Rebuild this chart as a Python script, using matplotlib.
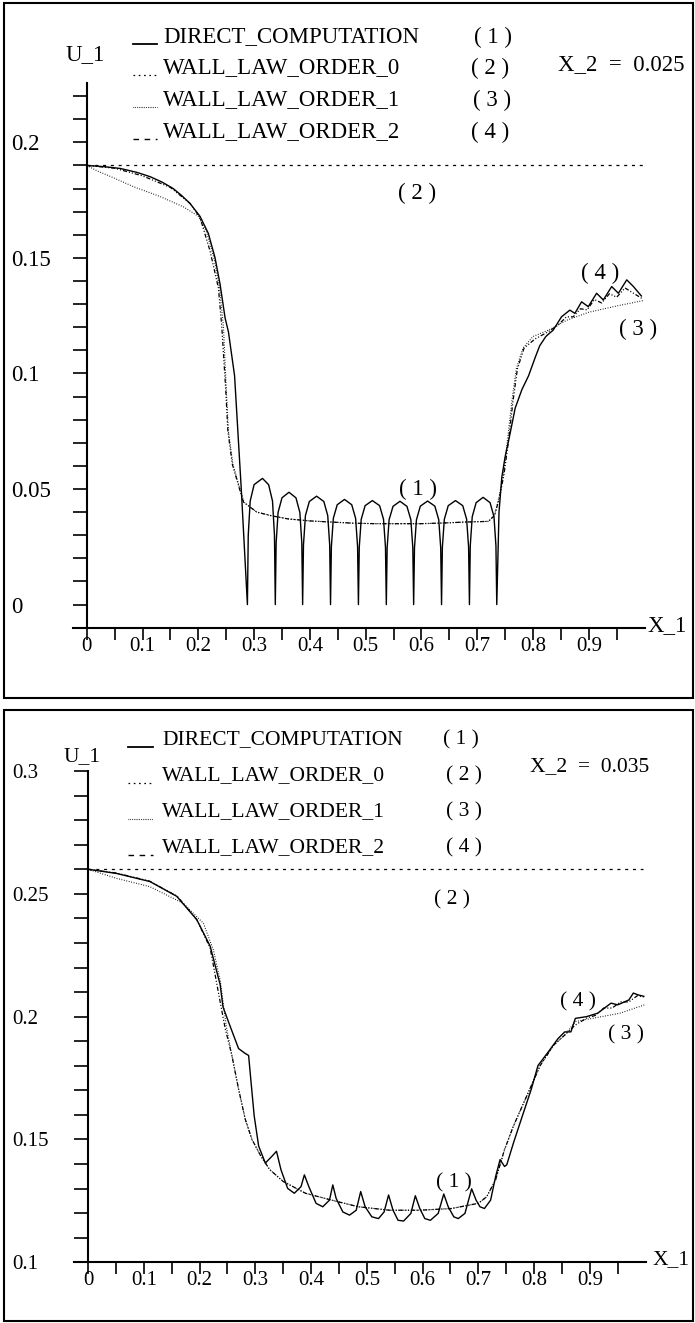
import numpy as np
import matplotlib
matplotlib.use("Agg")
import matplotlib.pyplot as plt
from matplotlib.lines import Line2D
from matplotlib.patches import Rectangle

plt.rcParams['font.family'] = ['Liberation Serif', 'DejaVu Serif']
plt.rcParams['lines.scale_dashes'] = False

W, H = 695, 1323

# ---------------- data : panel 1 (X_2 = 0.025) ----------------
top_direct_x = [0, 0.03, 0.06, 0.09, 0.114, 0.135, 0.155, 0.17, 0.185, 0.203, 0.218, 0.23, 0.239,
                0.248, 0.254, 0.265, 0.277,
                0.288, 0.2895, 0.293, 0.300, 0.315, 0.326, 0.333, 0.3365,
                0.338, 0.3395, 0.343, 0.350, 0.3625, 0.375, 0.382, 0.3855,
                0.387, 0.3885, 0.392, 0.399, 0.412, 0.425, 0.432, 0.4355,
                0.437, 0.4385, 0.442, 0.449, 0.462, 0.475, 0.482, 0.4855,
                0.487, 0.4885, 0.492, 0.499, 0.512, 0.525, 0.532, 0.5355,
                0.537, 0.5385, 0.542, 0.549, 0.5615, 0.574, 0.581, 0.5845,
                0.586, 0.5875, 0.591, 0.598, 0.611, 0.624, 0.631, 0.6345,
                0.636, 0.6375, 0.641, 0.648, 0.661, 0.674, 0.681, 0.6845,
                0.686, 0.6875, 0.691, 0.698, 0.7105, 0.723, 0.730, 0.7335,
                0.735, 0.739, 0.744, 0.75, 0.758, 0.768, 0.78, 0.792, 0.804, 0.812, 0.823, 0.83,
                0.836, 0.851, 0.866, 0.875, 0.887, 0.899, 0.914, 0.926, 0.941, 0.953, 0.968, 0.98, 0.995]
top_direct_u = [0.19, 0.1895, 0.1887, 0.187, 0.1851, 0.1828, 0.180, 0.177, 0.1736, 0.168, 0.1606, 0.150, 0.1386,
                0.124, 0.118, 0.099, 0.050,
                0, 0.030, 0.0448, 0.0519, 0.0546, 0.0519, 0.0448, 0.030,
                0, 0.0267, 0.0399, 0.0462, 0.0486, 0.0462, 0.0399, 0.0267,
                0, 0.0258, 0.0385, 0.0446, 0.0469, 0.0446, 0.0385, 0.0258,
                0, 0.0250, 0.0373, 0.0432, 0.0455, 0.0432, 0.0373, 0.0250,
                0, 0.0248, 0.0369, 0.0428, 0.0450, 0.0428, 0.0369, 0.0248,
                0, 0.0246, 0.0367, 0.0425, 0.0447, 0.0425, 0.0367, 0.0246,
                0, 0.0246, 0.0367, 0.0426, 0.0448, 0.0426, 0.0367, 0.0246,
                0, 0.0248, 0.0369, 0.0428, 0.0450, 0.0428, 0.0369, 0.0248,
                0, 0.0255, 0.0380, 0.0441, 0.0464, 0.0441, 0.0380, 0.0255,
                0, 0.040, 0.055, 0.064, 0.073, 0.085, 0.093, 0.099, 0.107, 0.112, 0.116, 0.1175,
                0.1187, 0.1245, 0.1274, 0.126, 0.131, 0.1289, 0.1347, 0.1318, 0.1376, 0.1347, 0.1405, 0.1376, 0.1333]

top_order0_x = [0, 0.997]
top_order0_u = [0.19, 0.19]

top_order1_x = [0, 0.02, 0.04, 0.084, 0.132, 0.174, 0.2, 0.215, 0.228, 0.238, 0.245, 0.25, 0.254, 0.262,
                0.274, 0.282, 0.305, 0.33, 0.36, 0.4, 0.439, 0.48, 0.519, 0.56, 0.598, 0.64, 0.677, 0.72,
                0.731, 0.739, 0.747, 0.754, 0.762, 0.77, 0.782, 0.8, 0.83, 0.86, 0.9, 0.95, 0.997]
top_order1_u = [0.19, 0.1875, 0.1855, 0.1808, 0.1765, 0.172, 0.168, 0.161, 0.150, 0.137, 0.1205, 0.094, 0.075,
                0.0607, 0.0507, 0.0443, 0.040, 0.0385, 0.0371, 0.0362, 0.0357, 0.0352, 0.035, 0.035, 0.035,
                0.0353, 0.0357, 0.036, 0.0386, 0.0464, 0.0564, 0.0707, 0.0879, 0.102, 0.111, 0.116, 0.119,
                0.123, 0.1265, 0.1292, 0.1315]

top_order2_x = [0, 0.05, 0.1, 0.15, 0.185, 0.203, 0.221, 0.236, 0.242, 0.249, 0.253, 0.261, 0.273, 0.281,
                0.305, 0.33, 0.36, 0.4, 0.439, 0.48, 0.519, 0.56, 0.598, 0.64, 0.677, 0.72, 0.731, 0.74,
                0.748, 0.756, 0.764, 0.772, 0.784, 0.804, 0.827, 0.845, 0.86, 0.872, 0.885, 0.897, 0.91,
                0.923, 0.937, 0.95, 0.965, 0.978, 0.995]
top_order2_u = [0.19, 0.1888, 0.1855, 0.1805, 0.1736, 0.1675, 0.153, 0.137, 0.1205, 0.0936, 0.075, 0.0607,
                0.0507, 0.0443, 0.040, 0.0385, 0.0371, 0.0362, 0.0357, 0.0352, 0.035, 0.035, 0.035, 0.0353,
                0.0357, 0.036, 0.0386, 0.0464, 0.0564, 0.0707, 0.0879, 0.102, 0.111, 0.115, 0.118, 0.121,
                0.1245, 0.1245, 0.128, 0.1275, 0.132, 0.1305, 0.1345, 0.133, 0.137, 0.135, 0.1325]

# ---------------- data : panel 2 (X_2 = 0.035) ----------------
bot_direct_x = [0, 0.051, 0.111, 0.159, 0.195, 0.219, 0.237, 0.242, 0.254, 0.27, 0.282, 0.288, 0.2925,
                0.298, 0.306, 0.318, 0.33, 0.338, 0.346, 0.358, 0.37, 0.382, 0.388, 0.396, 0.409, 0.421,
                0.433, 0.439, 0.445, 0.457, 0.469, 0.481, 0.489, 0.497, 0.509, 0.521, 0.531, 0.539, 0.547,
                0.556, 0.566, 0.579, 0.587, 0.595, 0.604, 0.614, 0.628, 0.638, 0.646, 0.656, 0.664, 0.676,
                0.688, 0.696, 0.703, 0.711, 0.722, 0.731, 0.739, 0.747, 0.751, 0.763, 0.779, 0.795, 0.807,
                0.823, 0.843, 0.855, 0.866, 0.874, 0.894, 0.914, 0.938, 0.95, 0.97, 0.978, 0.986, 0.998]
bot_direct_u = [0.26, 0.2583, 0.255, 0.249, 0.2395, 0.2287, 0.213, 0.204, 0.1966, 0.187, 0.185, 0.1842, 0.173,
                0.1596, 0.1473, 0.1404, 0.1432, 0.1452, 0.1377, 0.1301, 0.1281, 0.1308, 0.1356, 0.1308,
                0.124, 0.1226, 0.1253, 0.1315, 0.126, 0.1205, 0.1192, 0.1212, 0.1288, 0.1226, 0.1185,
                0.1178, 0.1205, 0.1274, 0.1212, 0.1171, 0.1168, 0.1199, 0.1271, 0.1219, 0.1178, 0.1171,
                0.1199, 0.1278, 0.1226, 0.1185, 0.1178, 0.1199, 0.1299, 0.1253, 0.1226, 0.1219, 0.1253,
                0.1349, 0.1418, 0.139, 0.1397, 0.1486, 0.1596, 0.1705, 0.1801, 0.1849, 0.1911, 0.1938,
                0.1938, 0.1993, 0.200, 0.2014, 0.2055, 0.2048, 0.2068, 0.2096, 0.2089, 0.2082]

bot_order0_x = [0, 0.995]
bot_order0_u = [0.26, 0.26]

bot_order1_x = [0, 0.051, 0.111, 0.171, 0.207, 0.225, 0.237, 0.248, 0.258, 0.27, 0.282, 0.294, 0.31, 0.326,
                0.35, 0.39, 0.437, 0.485, 0.541, 0.596, 0.652, 0.7, 0.715, 0.731, 0.747, 0.763, 0.779, 0.795,
                0.811, 0.835, 0.855, 0.874, 0.954, 0.998]
bot_order1_u = [0.26, 0.2563, 0.2529, 0.2461, 0.238, 0.227, 0.2148, 0.196, 0.1842, 0.1705, 0.1582, 0.15,
                0.1432, 0.1377, 0.1329, 0.1281, 0.1253, 0.1226, 0.1212, 0.1212, 0.1219, 0.124, 0.1267,
                0.1336, 0.1459, 0.1555, 0.1637, 0.1719, 0.1801, 0.1884, 0.1925, 0.198, 0.2014, 0.2048]

bot_order2_x = [0, 0.05, 0.11, 0.16, 0.195, 0.219, 0.2345, 0.246, 0.258, 0.27, 0.282, 0.294, 0.31, 0.326,
                0.35, 0.39, 0.437, 0.485, 0.541, 0.596, 0.652, 0.7, 0.715, 0.731, 0.747, 0.763, 0.779, 0.795,
                0.811, 0.835, 0.855, 0.874, 0.895, 0.91, 0.925, 0.94, 0.955, 0.97, 0.985, 0.998]
bot_order2_u = [0.26, 0.2585, 0.2552, 0.249, 0.2395, 0.228, 0.209, 0.1952, 0.1842, 0.1705, 0.1582, 0.15,
                0.1432, 0.1377, 0.1329, 0.1281, 0.1253, 0.1226, 0.1212, 0.1212, 0.1219, 0.124, 0.1267,
                0.1336, 0.1459, 0.1555, 0.1637, 0.1719, 0.1801, 0.1884, 0.1925, 0.1966, 0.1995, 0.2005,
                0.2035, 0.2035, 0.206, 0.206, 0.2085, 0.208]

legend_names = ["DIRECT_COMPUTATION", "WALL_LAW_ORDER_0", "WALL_LAW_ORDER_1", "WALL_LAW_ORDER_2"]
legend_tags = ["( 1 )", "( 2 )", "( 3 )", "( 4 )"]
x_tick_vals = [0, 0.05, 0.1, 0.15, 0.2, 0.25, 0.3, 0.35, 0.4, 0.45, 0.5, 0.55, 0.6, 0.65, 0.7, 0.75,
               0.8, 0.85, 0.9, 0.95]
x_tick_text = ["0", "", "0.1", "", "0.2", "", "0.3", "", "0.4", "", "0.5", "", "0.6", "", "0.7", "",
               "0.8", "", "0.9", ""]
top_y_major = [0, 0.05, 0.1, 0.15, 0.2]
top_y_labels = ["0", "0.05", "0.1", "0.15", "0.2"]
bot_y_major = [0.1, 0.15, 0.2, 0.25, 0.3]
bot_y_labels = ["0.1", "0.15", "0.2", "0.25", "0.3"]

# ---------------- styles ----------------
STY = [dict(color='black', lw=1.0, ls='-'),
       dict(color='black', lw=0.9, dashes=(2.2, 3.4)),
       dict(color='black', lw=0.8, dashes=(0.6, 1.2)),
       dict(color='black', lw=0.9, dashes=(3.0, 1.4, 0.8, 1.4, 0.8, 1.4))]
LEG_STY = [dict(color='black', lw=1.3, ls='-'),
           dict(color='black', lw=0.9, dashes=(1.2, 2.6)),
           dict(color='black', lw=0.8, dashes=(0.5, 0.8)),
           dict(color='black', lw=1.0, dashes=(4.0, 4.0))]

fig = plt.figure(figsize=(W / 100, H / 100), dpi=100)


def fx(px):
    return px / W


def fy(py):
    return 1 - py / H


def make_panel(box, axpx, xlim, ylim, series, y_major, y_labels, y_minor, fs_y, fs_x, fs_t,
               ulab, x1lab, x2text, leg_rows, leg_x, tag_x, annots, ylab_pad):
    bx0, by0, bx1, by1 = box
    fig.add_artist(Rectangle((fx(bx0), fy(by1)), fx(bx1) - fx(bx0), fy(by0) - fy(by1),
                             transform=fig.transFigure, fill=False, lw=1.5, ec='black'))
    l, t, r, b = axpx
    ax = fig.add_axes([fx(l), fy(b), (r - l) / W, (b - t) / H])
    ax.set_xlim(*xlim)
    ax.set_ylim(*ylim)
    ax.patch.set_alpha(0)
    for s in ['top', 'right']:
        ax.spines[s].set_visible(False)
    ax.spines['left'].set_position(('data', 0))
    ax.spines['left'].set_linewidth(1.5)
    ax.spines['bottom'].set_linewidth(1.5)
    for (xs, us), st in zip(series, STY):
        ax.plot(xs, us, solid_capstyle='butt', **st)
    ax.set_xticks(x_tick_vals, labels=x_tick_text)
    ax.set_yticks(y_major, labels=y_labels)
    ax.set_yticks(y_minor, minor=True)
    ax.tick_params(axis='x', direction='out', length=8.6, width=1.2, pad=-2, labelsize=fs_x)
    ax.tick_params(axis='y', which='both', direction='out', length=10, width=1.2, pad=ylab_pad,
                   labelsize=fs_y)
    for lbl in ax.get_yticklabels():
        lbl.set_horizontalalignment('left')
    fig.text(fx(ulab[0]), fy(ulab[1]), "U_1", ha='center', va='center', fontsize=fs_t)
    fig.text(fx(x1lab[0]), fy(x1lab[1]), "X_1", ha='left', va='center', fontsize=fs_t)
    fig.text(fx(x2text[0]), fy(x2text[1]), x2text[2], ha='left', va='center', fontsize=fs_t)
    for i, yrow in enumerate(leg_rows):
        fig.add_artist(Line2D([fx(leg_x[0]), fx(leg_x[1])], [fy(yrow + 7), fy(yrow + 7)],
                              transform=fig.transFigure, **LEG_STY[i]))
        fig.text(fx(leg_x[2]), fy(yrow), legend_names[i], ha='left', va='center', fontsize=fs_t)
        fig.text(fx(tag_x[i]), fy(yrow), legend_tags[i], ha='center', va='center', fontsize=fs_t)
    for (ax_, ay_, txt) in annots:
        ax.text(ax_, ay_, txt, ha='center', va='center', fontsize=fs_t)
    return ax


top_series = [(top_direct_x, top_direct_u), (top_order0_x, top_order0_u),
              (top_order1_x, top_order1_u), (top_order2_x, top_order2_u)]
bot_series = [(bot_direct_x, bot_direct_u), (bot_order0_x, bot_order0_u),
              (bot_order1_x, bot_order1_u), (bot_order2_x, bot_order2_u)]

make_panel(box=(4, 3, 693, 698), axpx=(72.8, 83.4, 644.6, 627.7), xlim=(-0.025, 1.0), ylim=(-0.01, 0.2255),
           series=top_series, y_major=top_y_major, y_labels=top_y_labels,
           y_minor=list(np.round(np.arange(0, 0.2201, 0.01), 2)),
           fs_y=16.5, fs_x=15, fs_t=16.5,
           ulab=(85, 55), x1lab=(647, 626), x2text=(558, 65, "X_2  =  0.025"),
           leg_rows=[37, 68, 100, 132], leg_x=(133, 157, 163), tag_x=[493, 490, 492, 490],
           annots=[(0.592, 0.178, "( 2 )"), (0.594, 0.05, "( 1 )"), (0.92, 0.1433, "( 4 )"),
                   (0.988, 0.119, "( 3 )")],
           ylab_pad=44.4)

make_panel(box=(4, 710, 693, 1321), axpx=(74.1, 771, 645.6, 1262.3), xlim=(-0.025, 1.0), ylim=(0.1, 0.3),
           series=bot_series, y_major=bot_y_major, y_labels=bot_y_labels,
           y_minor=list(np.round(np.arange(0.1, 0.3001, 0.01), 2)),
           fs_y=15, fs_x=15, fs_t=15.5,
           ulab=(82, 757), x1lab=(653, 1260), x2text=(530, 767, "X_2  =  0.035"),
           leg_rows=[740, 776, 812, 848], leg_x=(128, 153, 162), tag_x=[461, 464, 464, 464],
           annots=[(0.652, 0.2475, "( 2 )"), (0.656, 0.1322, "( 1 )"), (0.878, 0.2062, "( 4 )"),
                   (0.965, 0.1925, "( 3 )")],
           ylab_pad=44.3)

fig.savefig("out.png", dpi=100)
